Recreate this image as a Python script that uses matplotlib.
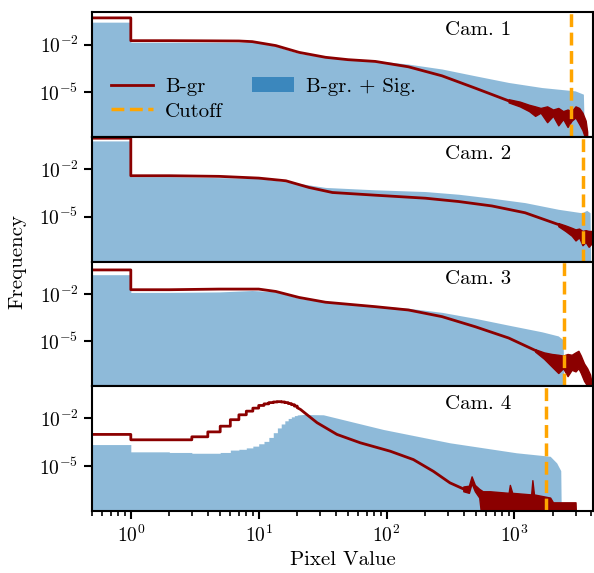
import numpy as np
import matplotlib
matplotlib.use("Agg")
import matplotlib.pyplot as plt
from matplotlib.lines import Line2D
from matplotlib.patches import Patch

plt.rcParams['font.family'] = 'serif'
plt.rcParams['font.serif'] = ['cmr10']
plt.rcParams['mathtext.fontset'] = 'cm'
plt.rcParams['axes.formatter.use_mathtext'] = True
plt.rcParams['font.size'] = 15
plt.rcParams['xtick.labelsize'] = 14
plt.rcParams['ytick.labelsize'] = 14

# all frequencies are log10 values
cams = ["Cam. 1", "Cam. 2", "Cam. 3", "Cam. 4"]
cutoffs = [2754, 3436, 2428, 1758]

# integer bins [0,1), [1,2), ... (left edge drawn from 0.5)
bg_low = [
    [-0.31, -1.75],
    [-0.04, -2.41],
    [-0.49, -1.74],
    [-3.01, -3.35, -3.35, -3.16, -2.85, -2.49, -2.08, -1.77, -1.54, -1.35,
     -1.18, -1.08, -1.00, -0.96, -0.94, -0.96, -1.00, -1.06, -1.13, -1.22],
]
sig_low = [
    [-0.58, -1.85],
    [-0.21, -2.47],
    [-0.79, -1.91],
    [-3.65, -4.11, -4.15, -4.20, -4.20, -4.15, -4.00, -3.95, -3.86, -3.75,
     -3.60, -3.45, -3.20, -2.90, -2.60, -2.35, -2.15, -2.00, -1.90, -1.82],
]

# smooth part of the background histogram
bg_x = [
    [2, 4, 7, 8.9, 13.6, 20.7, 33.3, 50, 81.5, 148, 271, 494, 900],
    [2, 4.9, 10, 16.3, 24.7, 37.7, 81.5, 201, 366, 666, 1210, 2200],
    [2, 4.9, 10, 13.6, 20.7, 33.3, 81.5, 148, 271, 494, 900, 1450],
    [20, 21.2, 24, 28.6, 40.9, 62.3, 106.7, 162, 232, 313, 398],
]
bg_y = [
    [-1.75, -1.76, -1.77, -1.81, -2.06, -2.49, -2.80, -2.95, -3.06, -3.40, -3.97, -4.75, -5.55],
    [-2.41, -2.45, -2.56, -2.73, -3.15, -3.47, -3.64, -3.83, -4.04, -4.32, -4.75, -5.49],
    [-1.74, -1.70, -1.70, -1.85, -2.23, -2.53, -2.81, -3.02, -3.44, -4.08, -4.79, -5.57],
    [-1.32, -1.43, -1.78, -2.27, -3.01, -3.54, -4.07, -4.60, -5.34, -6.07, -6.45],
]

# noisy tail of the background: band between lower and upper envelope
tail_x = [
    [900, 1100, 1300, 1450, 1600, 1800, 2000, 2200, 2400, 2600, 2800, 3000, 3200, 3400, 3600, 3700],
    [2200, 2500, 2800, 3000, 3200, 3400, 3600, 3800, 4000, 4090, 4095],
    [1450, 1700, 1960, 2200, 2400, 2600, 2800, 3000, 3160, 3300, 3500, 3700, 3900, 4000],
    [398, 440, 462, 490, 530, 565, 640, 900, 920, 960, 1350, 1380, 1420, 1900, 2000, 3000, 3050],
]
tail_hi = [
    [-5.45, -5.60, -5.80, -5.90, -6.00, -5.90, -6.10, -6.00, -6.20, -6.10, -6.20, -5.90, -6.00,
     -6.30, -6.80, -7.50],
    [-5.40, -5.55, -5.70, -5.80, -5.75, -5.90, -5.85, -5.90, -5.90, -5.90, -3.30],
    [-5.50, -5.70, -5.80, -5.85, -5.90, -5.80, -5.85, -5.70, -5.60, -5.90, -6.40, -6.70, -7.10, -7.60],
    [-6.30, -6.25, -5.66, -6.20, -6.45, -6.60, -6.60, -6.70, -6.20, -6.70, -6.80, -5.90,
     -6.80, -7.00, -7.30, -7.30, -9.00],
]
tail_lo = [
    [-5.65, -5.90, -6.20, -6.50, -6.30, -6.90, -6.50, -7.10, -6.70, -7.20, -6.80, -6.60, -7.00,
     -7.40, -8.00, -9.00],
    [-5.60, -5.90, -6.20, -6.50, -6.30, -6.80, -6.60, -6.90, -6.70, -6.70, -6.70],
    [-5.65, -6.10, -6.60, -7.00, -6.70, -7.20, -6.80, -6.90, -6.70, -7.00, -7.50, -7.80, -9.00, -9.00],
    [-6.60, -6.70, -6.10, -6.60, -7.00, -9.00, -9.00, -9.00, -9.00, -9.00, -9.00, -9.00,
     -9.00, -9.00, -9.00, -9.00, -9.00],
]

# background + signal, smooth part
sig_x = [
    [2, 7, 9, 13.6, 20.7, 33.3, 81.5, 148, 271, 494, 900, 1636, 2978, 3457, 3550],
    [2, 10, 18.3, 33.3, 81.5, 201, 366, 666, 1210, 2200, 3357, 3670, 3900, 3950],
    [2, 4.9, 8.9, 13.6, 20.7, 33.3, 81.5, 148, 271, 494, 900, 1640, 2200, 2400, 2450],
    [20, 22.5, 32, 94.6, 313, 1035, 1900, 2137, 2300, 2330],
]
sig_y = [
    [-1.85, -1.85, -1.82, -2.10, -2.55, -2.80, -3.01, -3.23, -3.54, -3.97, -4.39, -4.71, -4.92, -5.13, -9],
    [-2.47, -2.58, -2.83, -3.15, -3.30, -3.41, -3.58, -3.83, -4.11, -4.53, -4.75, -4.60, -4.75, -9],
    [-1.91, -1.88, -1.79, -1.87, -2.28, -2.53, -2.76, -2.91, -3.17, -3.55, -3.98, -4.40, -4.66, -4.90, -9],
    [-1.78, -1.75, -1.77, -2.70, -3.54, -4.17, -4.39, -4.81, -5.30, -9],
]


def hist_path(low, xs, ys):
    edges = np.arange(len(low) + 1, dtype=float)
    edges[0] = 0.5
    px = np.repeat(edges, 2)[1:-1]
    py = np.repeat(low, 2)
    px = np.concatenate([px, xs])
    py = np.concatenate([py, ys])
    return px, 10.0 ** py


fig, axes = plt.subplots(4, 1, figsize=(5.94, 5.73), dpi=100, sharex=True)
fig.subplots_adjust(left=0.1554, right=0.998, top=0.9785, bottom=0.1087, hspace=0)

for i, ax in enumerate(axes):
    sx, sy = hist_path(sig_low[i], sig_x[i], sig_y[i])
    ax.fill_between(sx, sy, 1e-10, color='tab:blue', alpha=0.5, lw=0)

    bx, by = hist_path(bg_low[i], bg_x[i], bg_y[i])
    ax.plot(bx, by, color='darkred', lw=2)
    ax.fill_between(tail_x[i], 10.0 ** np.array(tail_lo[i]), 10.0 ** np.array(tail_hi[i]),
                    color='darkred', lw=1)

    ax.axvline(cutoffs[i], color='orange', ls='--', lw=2.5)
    ax.text(0.77, 0.86, cams[i], transform=ax.transAxes, ha='center', va='center')

    ax.set_xscale('log')
    ax.set_yscale('log')
    ax.set_xlim(0.5, 4096)
    ax.set_ylim(1.48e-8, 1.1)
    ax.set_yticks([1e-2, 1e-5])
    ax.yaxis.set_minor_locator(matplotlib.ticker.NullLocator())
    for s in ax.spines.values():
        s.set_linewidth(1.5)
    ax.tick_params(which='major', width=1.5, length=6, pad=4)
    ax.tick_params(which='minor', width=1.2, length=3.5)
    if i < 3:
        ax.tick_params(axis='x', which='both', bottom=False)

axes[-1].set_xlabel('Pixel Value')
fig.text(0.03, 0.5 * (0.9785 + 0.1087), 'Frequency', rotation=90, ha='center', va='center')

handles = [
    Line2D([], [], color='darkred', lw=2),
    Line2D([], [], color='orange', ls='--', lw=2.5),
    Patch(facecolor='tab:blue', alpha=0.75, lw=0),
]
axes[0].legend(handles, ['B-gr', 'Cutoff', 'B-gr. + Sig.'], ncol=2, loc='lower left',
               frameon=False, handletextpad=0.6, columnspacing=1.4, labelspacing=0.3,
               bbox_to_anchor=(0.0, -0.02))

fig.savefig('out.png', dpi=100)
